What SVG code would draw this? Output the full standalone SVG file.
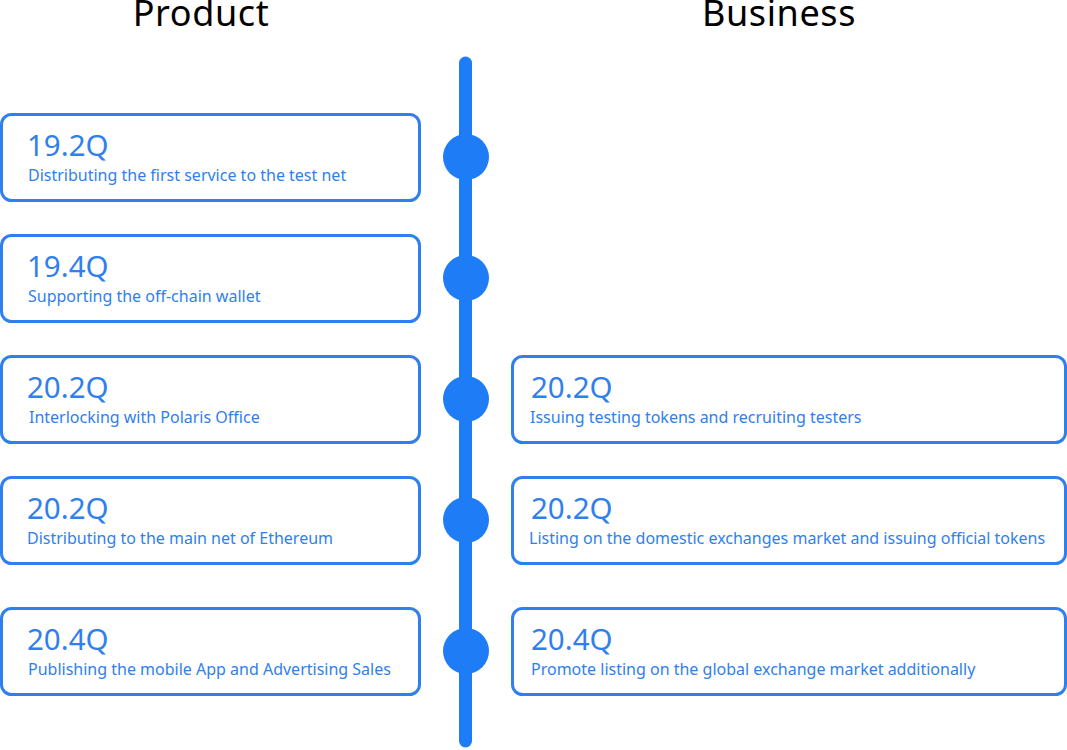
<svg xmlns="http://www.w3.org/2000/svg" width="1067" height="750" viewBox="0 0 1067 750">
<style>
.title{font-family:"Noto Sans","Open Sans",sans-serif;font-size:36px;fill:#000;text-anchor:middle;letter-spacing:0.6px}
.box{fill:#fff;stroke:#2f80ed;stroke-width:3}
.q{font-family:"Noto Sans","Open Sans",sans-serif;font-size:29.5px;fill:#2f80ed}
.d{font-family:"Noto Sans","Open Sans",sans-serif;font-size:16px;fill:#2f80ed}
.dot{fill:#1e7cf6}
</style>
<rect width="1067" height="750" fill="#fff"/>
<text class="title" x="201" y="26">Product</text>
<text class="title" x="779" y="26">Business</text>
<g id="connectors">
<line x1="465.5" y1="63" x2="465.5" y2="741" stroke="#1e7cf6" stroke-width="13" stroke-linecap="round"/>
</g>
<g id="dots">
<circle class="dot" cx="466" cy="157" r="23"/>
<circle class="dot" cx="466" cy="278" r="23"/>
<circle class="dot" cx="466" cy="399" r="23"/>
<circle class="dot" cx="466" cy="520" r="23"/>
<circle class="dot" cx="466" cy="651" r="23"/>
</g>
<g id="p1"><rect class="box" x="1.5" y="114.5" width="418" height="86" rx="10"/><text class="q" x="27" y="156">19.2Q</text><text class="d" x="28" y="181">Distributing the first service to the test net</text></g>
<g id="p2"><rect class="box" x="1.5" y="235.5" width="418" height="86" rx="10"/><text class="q" x="27" y="277">19.4Q</text><text class="d" x="28" y="302">Supporting the off-chain wallet</text></g>
<g id="p3"><rect class="box" x="1.5" y="356.5" width="418" height="86" rx="10"/><text class="q" x="27" y="398">20.2Q</text><text class="d" x="29" y="423">Interlocking with Polaris Office</text></g>
<g id="p4"><rect class="box" x="1.5" y="477.5" width="418" height="86" rx="10"/><text class="q" x="27" y="519">20.2Q</text><text class="d" x="27" y="544">Distributing to the main net of Ethereum</text></g>
<g id="p5"><rect class="box" x="1.5" y="608.5" width="418" height="86" rx="10"/><text class="q" x="27" y="650">20.4Q</text><text class="d" x="28" y="675">Publishing the mobile App and Advertising Sales</text></g>
<g id="b3"><rect class="box" x="512.5" y="356.5" width="553" height="86" rx="10"/><text class="q" x="531" y="398">20.2Q</text><text class="d" x="530" y="423">Issuing testing tokens and recruiting testers</text></g>
<g id="b4"><rect class="box" x="512.5" y="477.5" width="553" height="86" rx="10"/><text class="q" x="531" y="519">20.2Q</text><text class="d" x="529" y="544">Listing on the domestic exchanges market and issuing official tokens</text></g>
<g id="b5"><rect class="box" x="512.5" y="608.5" width="553" height="86" rx="10"/><text class="q" x="531" y="650">20.4Q</text><text class="d" x="531" y="675">Promote listing on the global exchange market additionally</text></g>
</svg>
